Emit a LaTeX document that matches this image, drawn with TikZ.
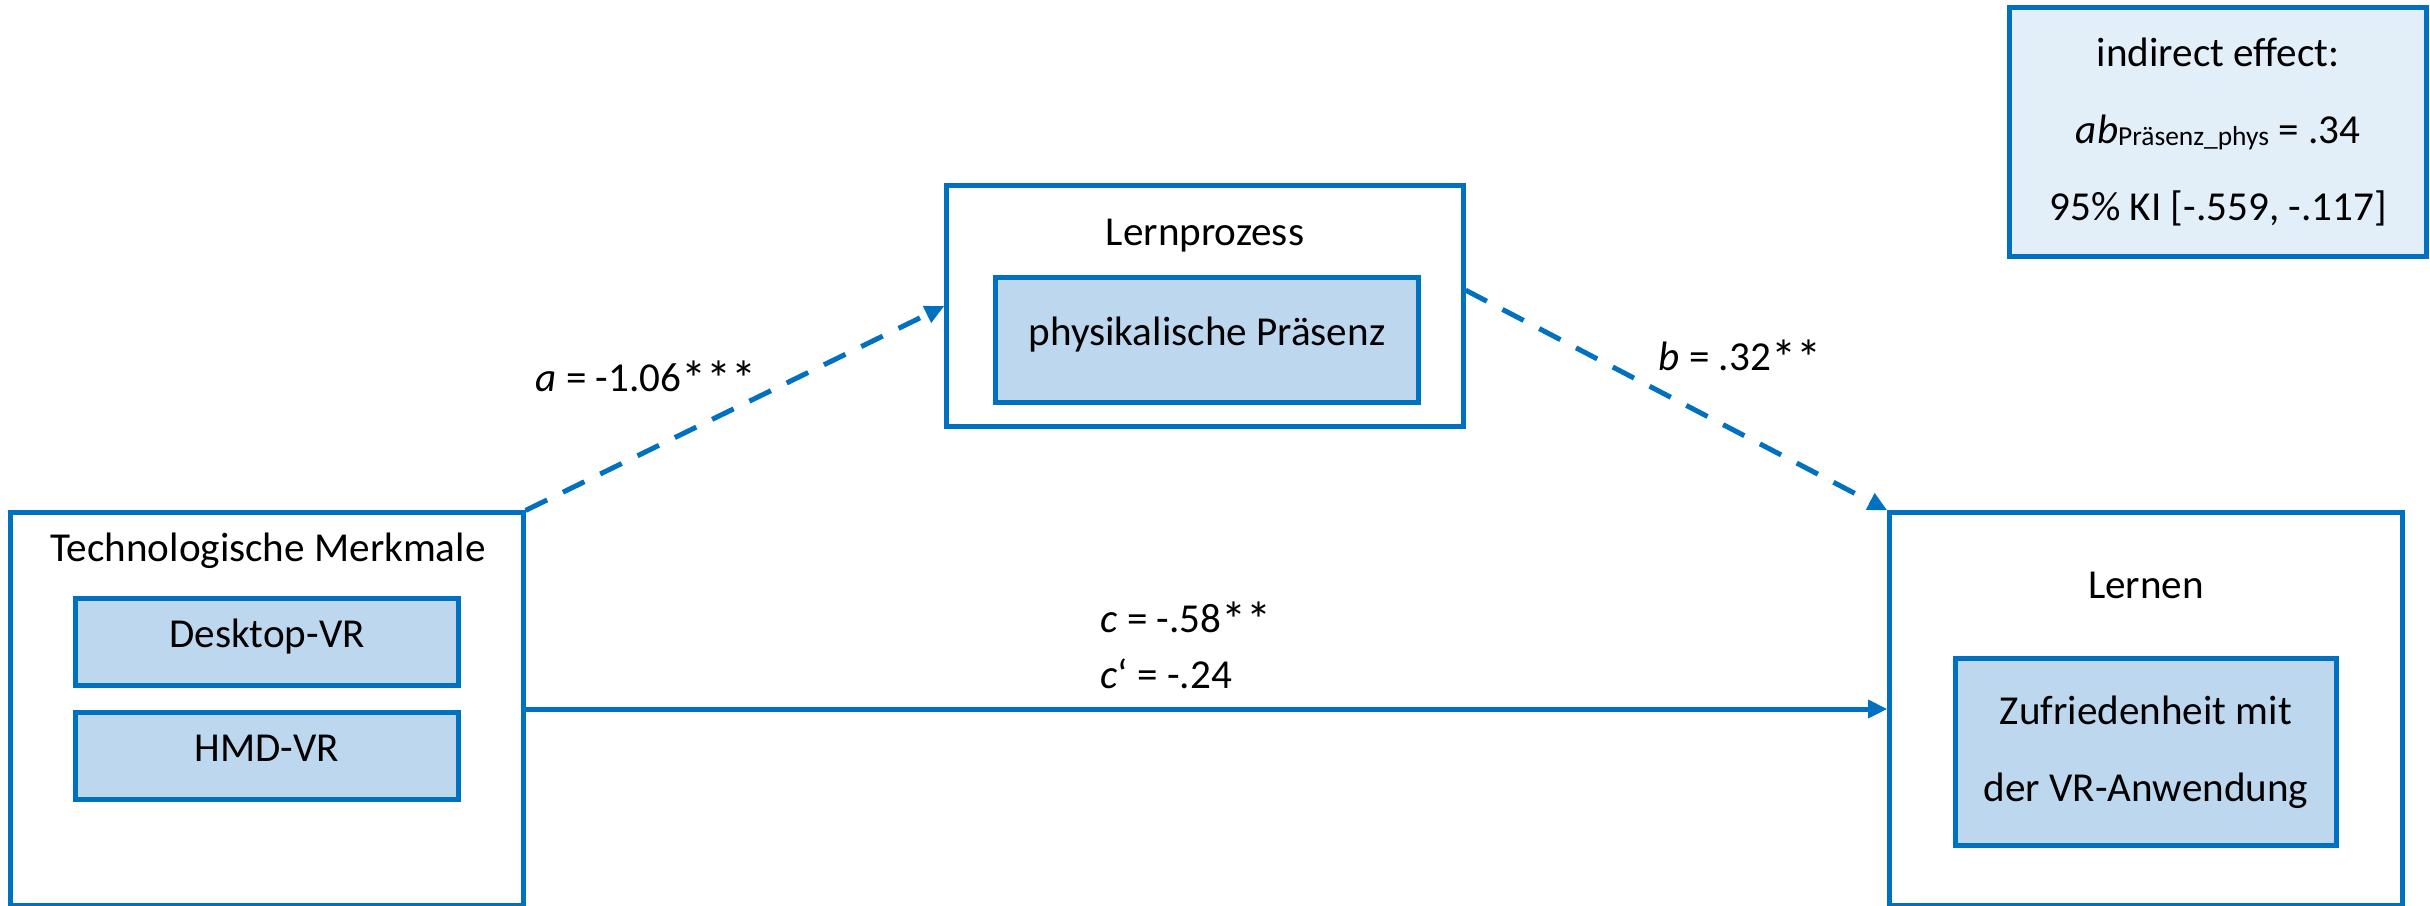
\documentclass[tikz,border=0pt]{standalone}
\usepackage{fontspec}
\setmainfont{Carlito}
\usepackage{graphicx}
\usepackage{tikz}
\usetikzlibrary{arrows.meta,positioning}
\definecolor{pathblue}{RGB}{0,112,192}
\definecolor{varfill}{RGB}{189,215,238}
\definecolor{notefill}{RGB}{226,238,248}
\newcommand{\sigstar}{\raisebox{-1.6pt}{\scalebox{1.22}{*}}}

\begin{document}
\begin{tikzpicture}[
  x=0.01cm, y=-0.01cm,
  font=\fontsize{11.7}{14}\selectfont,
  frame/.style={draw=pathblue, line width=1.42pt, inner sep=0pt},
  outer/.style={frame, minimum width=5.12cm, minimum height=3.92cm},
  var/.style={frame, fill=varfill, minimum width=3.82cm, minimum height=0.87cm,
    text height=8pt, text depth=5pt},
  title/.style={anchor=base, inner sep=0pt},
  lbl/.style={anchor=base west, inner sep=0pt},
  flow/.style={-{Triangle[length=5.5pt,width=5pt]}, draw=pathblue, line width=1.42pt},
  med/.style={flow, dash pattern=on 6.8pt off 5pt}
]
\useasboundingbox (0,0) rectangle (2430,905);
\node[outer] (tech) at (267,709) {};
\node[title] (techtitle) at (268,561) {Technologische Merkmale};
\node[var] (desk) at (267,642) {Desktop-VR};
\node[var, below=0.22cm of desk] (hmd) {HMD-VR};

\node[frame, minimum width=5.16cm, minimum height=2.41cm] (proc) at (1205,306) {};
\node[title] (proctitle) at (1205,245) {Lernprozess};
\node[var, minimum width=4.22cm, minimum height=1.25cm] (phys) at (1207,340) {physikalische Präsenz};

\node[outer] (learn) at (2146,709) {};
\node[title] (learntitle) at (2146,598) {Lernen};
\node[var, text height=, text depth=, align=center, minimum width=3.8cm, minimum height=1.87cm,
  font=\fontsize{11.7}{21.8}\selectfont] (zuf) at (2146,752) {Zufriedenheit mit\\der VR-Anwendung};

\node[frame, fill=notefill, minimum width=4.17cm, minimum height=2.49cm, align=center,
  font=\fontsize{11.7}{21.8}\selectfont] (note) at (2218,132)
  {indirect effect:\\\textit{ab}\raisebox{-0.6pt}{\fontsize{7.8}{9}\selectfont Präsenz\_phys} = .34\\95\% KI [-.559, -.117]};

\draw[med] (tech.north east) -- (proc.west);
\draw[med] ([yshift=4.5pt]proc.east) -- (learn.north west);
\draw[flow] (tech.east) -- (learn.west);

\node[lbl] (alab) at (535,391) {\textit{a} = -1.06\sigstar\sigstar\sigstar};
\node[lbl] (blab) at (1658,370) {\textit{b} = .32\sigstar\sigstar};
\node[lbl] (clab) at (1100,632) {\textit{c} = -.58\sigstar\sigstar};
\node[lbl] (cplab) at (1100,688) {\textit{c}‘ = -.24};
\end{tikzpicture}
\end{document}
